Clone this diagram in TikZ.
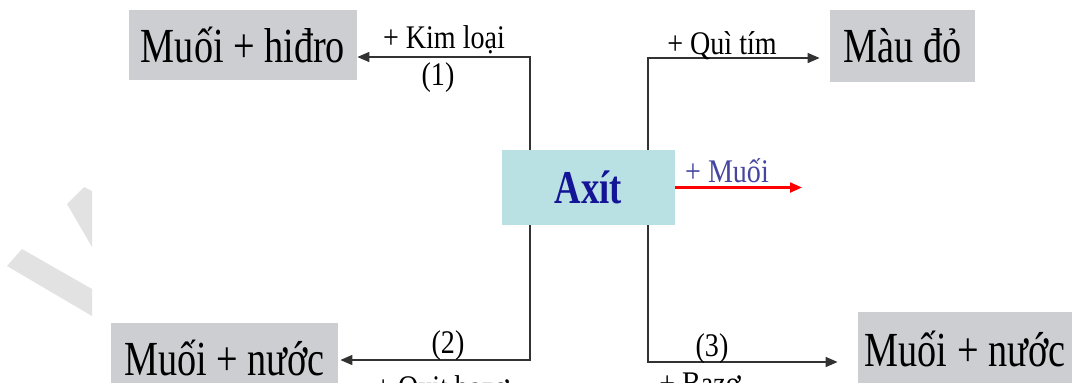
\documentclass[tikz,border=0pt]{standalone}
\usepackage{fontspec}
\setmainfont{Liberation Serif}
\usetikzlibrary{arrows.meta}
\definecolor{boxgray}{RGB}{205,206,210}
\definecolor{axitfill}{RGB}{185,224,227}
\definecolor{axitblue}{RGB}{20,20,150}
\definecolor{muoiblue}{RGB}{70,70,160}
\definecolor{linegray}{RGB}{50,50,50}
\definecolor{wmgray}{RGB}{226,226,226}
\newcommand{\narrowtxt}[2][0.78]{\scalebox{#1}[1]{#2}}
\begin{document}
\begin{tikzpicture}[x=0.5pt,y=-0.5pt,
  box/.style={fill=boxgray,inner sep=0pt,font=\fontsize{24.5}{28}\selectfont},
  conn/.style={draw=linegray,line width=0.8pt,-{Triangle[length=6pt,width=5pt]}},
  lbl/.style={inner sep=0pt,font=\fontsize{16.5}{19}\selectfont}]
  \useasboundingbox (0,0) rectangle (1072,382);
  \fill[wmgray] (67,204) -- (84,187) -- (92,191) -- (92,247) -- cycle;
  \fill[wmgray] (7,266) -- (22,249) -- (92,289) -- (92,316) -- cycle;
  \node[box,minimum width=114pt,minimum height=35pt] (hidro) at (243,45) {\narrowtxt{Muối + hiđro}};
  \node[box,minimum width=72.5pt,minimum height=36pt] (maudo) at (902.5,46) {\narrowtxt{Màu đỏ}};
  \node[box,minimum width=113.5pt,minimum height=35pt] (nuoc1) at (224.5,358) {\narrowtxt{Muối + nước}};
  \node[box,minimum width=107pt,minimum height=37pt] (nuoc2) at (965,349) {\narrowtxt{Muối + nước}};
  \node[fill=axitfill,inner sep=0pt,minimum width=86.5pt,minimum height=37.5pt,
    text=axitblue,font=\fontsize{23.5}{27}\selectfont\bfseries] (axit) at (588.5,187.5) {\narrowtxt{Axít}};
  \coordinate (kl) at (530,57);
  \coordinate (qt) at (648,58);
  \coordinate (muoi) at (802,187.5);
  \coordinate (ob) at (530,360);
  \coordinate (bz) at (648,362);
  \draw[conn] (axit.north -| kl) |- (hidro.east |- kl);
  \draw[conn] (axit.north -| qt) |- ([xshift=-5pt]maudo.west |- qt);
  \draw[conn,draw=red,line width=1.1pt] (axit.east) -- (muoi);
  \draw[conn] (axit.south -| ob) |- ([xshift=1pt]nuoc1.east |- ob);
  \draw[conn] (axit.south -| bz) |- ([xshift=-10pt]nuoc2.west |- bz);
  \node[lbl,anchor=base] (lkl) at (444,48) {\narrowtxt[0.85]{+ Kim loại}};
  \node[lbl] (n1) at (438,78) {\narrowtxt[0.85]{(1)}};
  \node[lbl,anchor=base] (lqt) at (722,54) {\narrowtxt[0.85]{+ Quì tím}};
  \node[lbl,anchor=base,text=muoiblue] (lmuoi) at (727,182) {\narrowtxt[0.85]{+ Muối}};
  \node[lbl] (n2) at (448,346) {\narrowtxt[0.85]{(2)}};
  \node[lbl,anchor=base] (lob) at (442,398) {\narrowtxt[0.85]{+ Oxit bazơ}};
  \node[lbl] (n3) at (712,349) {\narrowtxt[0.85]{(3)}};
  \node[lbl,anchor=base] (lbz) at (700,394) {\narrowtxt[0.85]{+ Bazơ}};
\end{tikzpicture}
\end{document}
